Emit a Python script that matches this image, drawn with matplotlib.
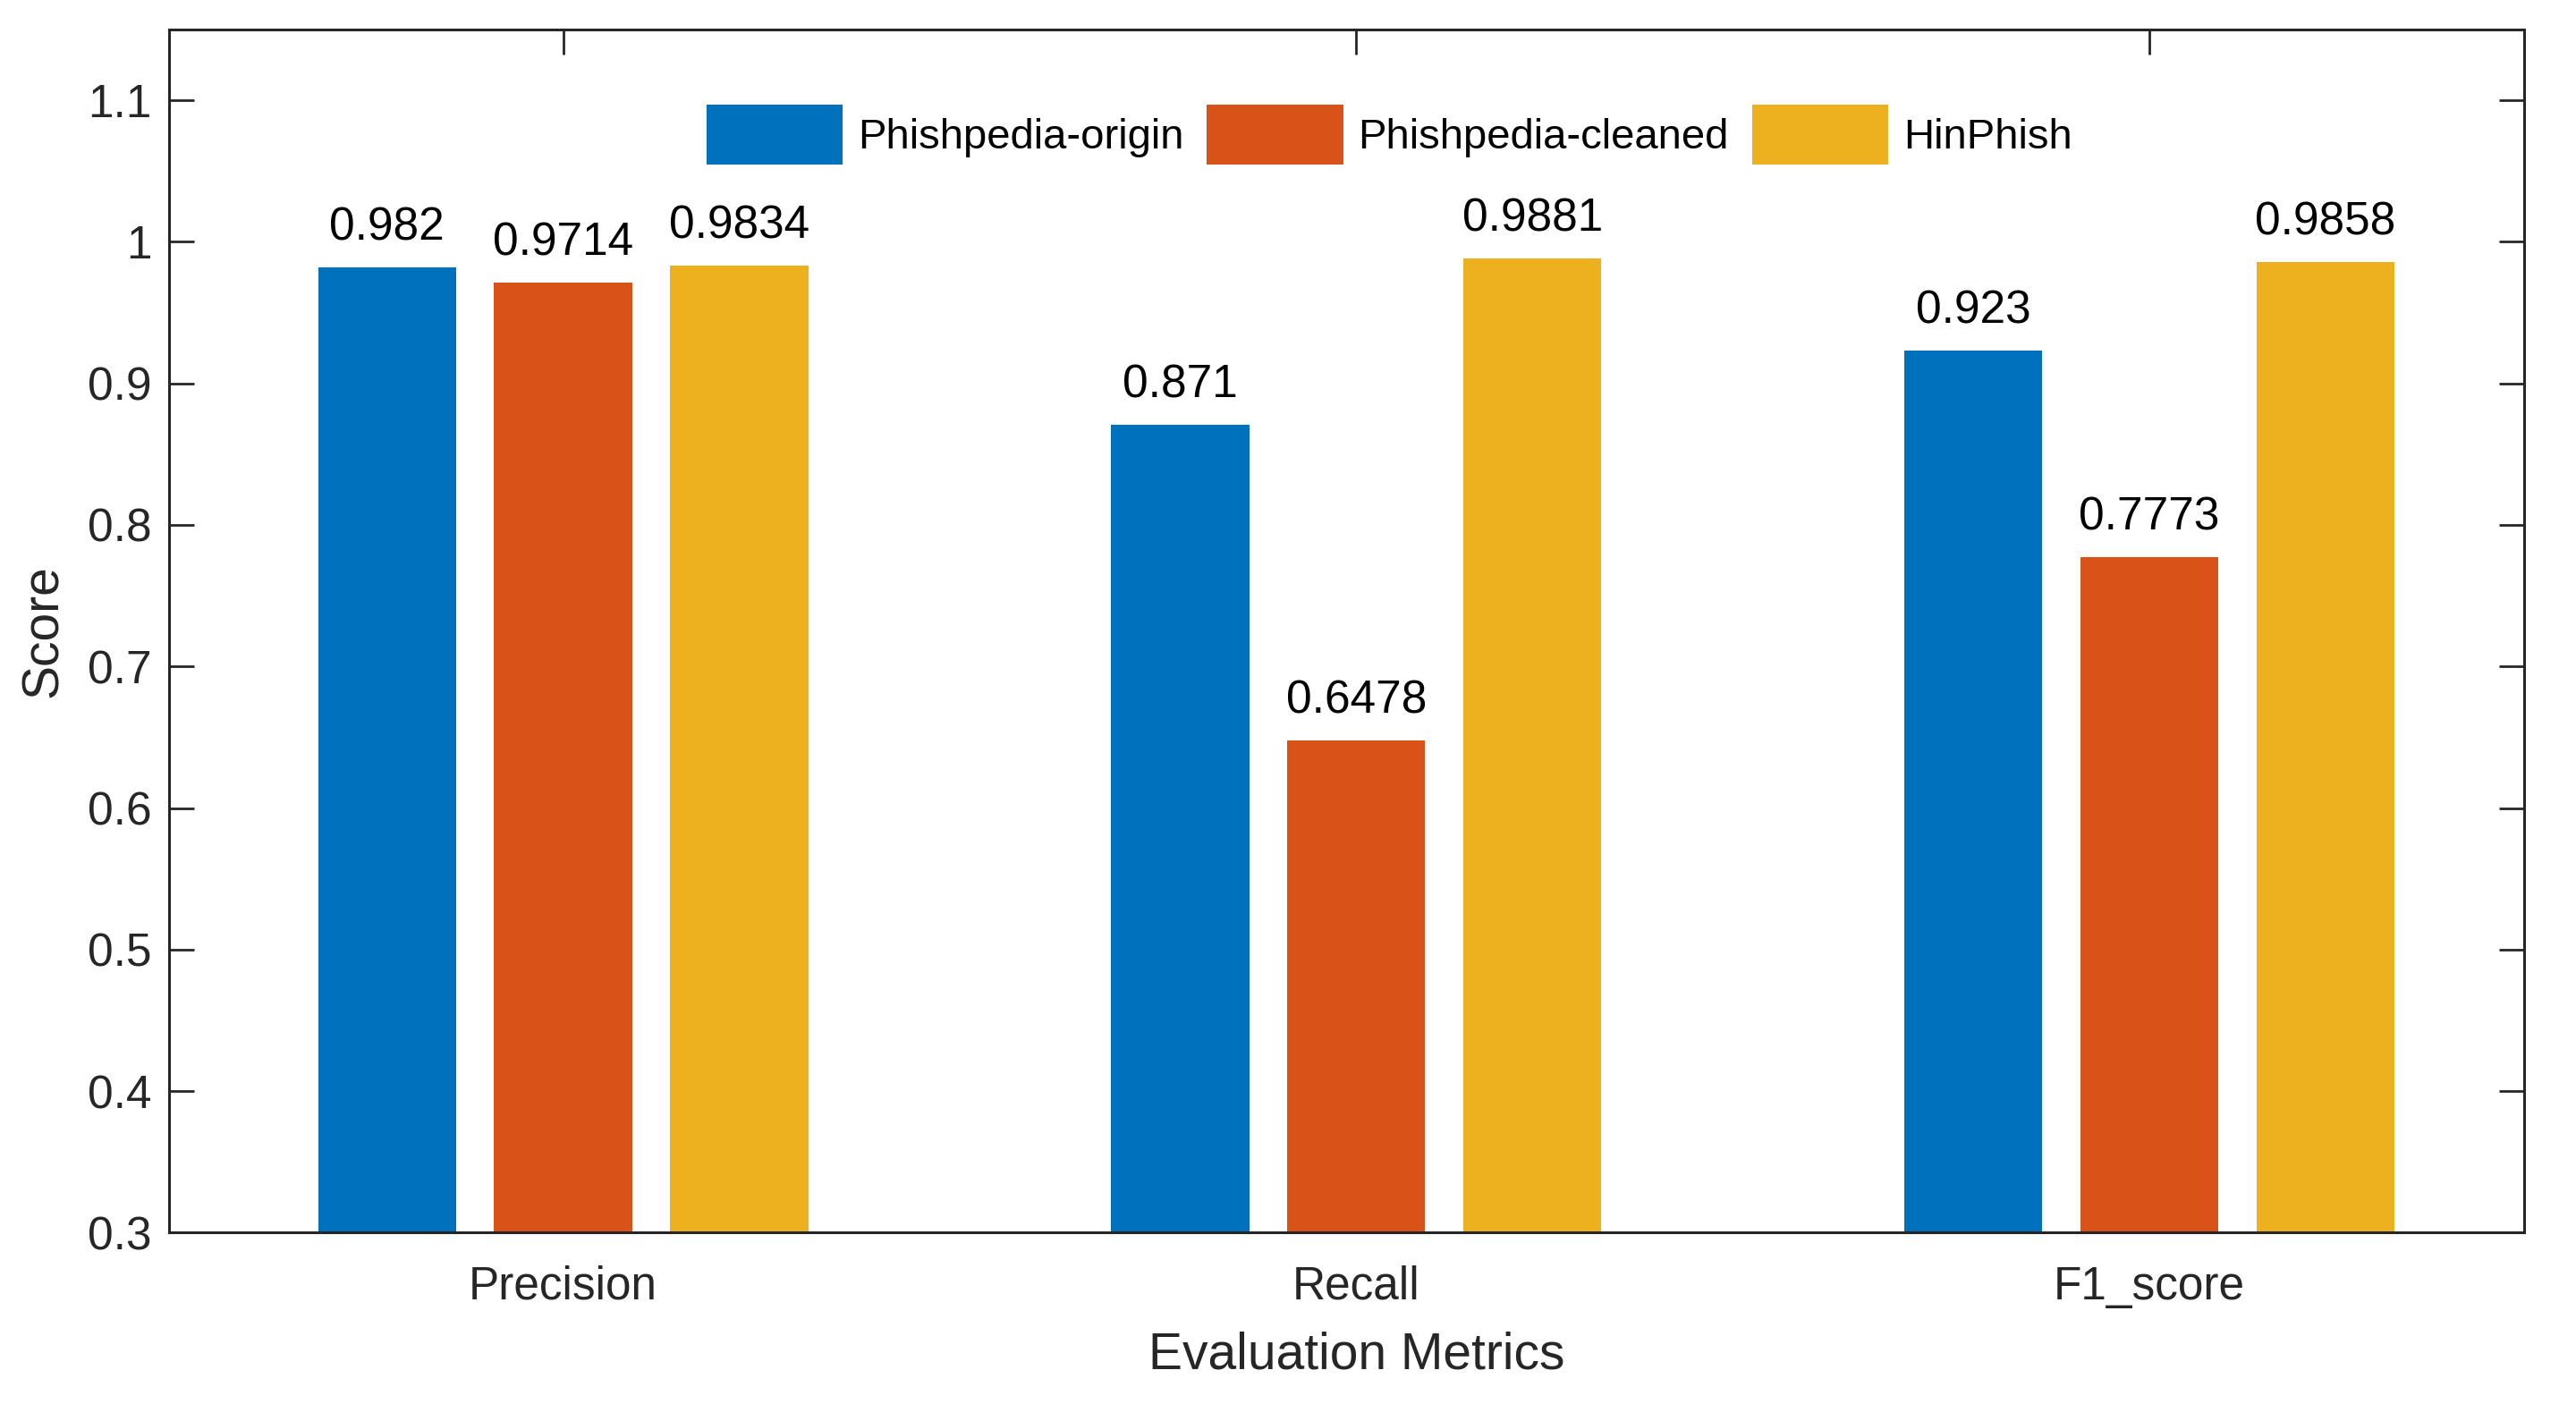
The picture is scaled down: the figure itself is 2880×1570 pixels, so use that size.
import matplotlib
matplotlib.use('Agg')
import matplotlib.pyplot as plt
import numpy as np

# Data
metrics = ['Precision', 'Recall', 'F1_score']
series_names = ['Phishpedia-origin', 'Phishpedia-cleaned', 'HinPhish']
origin = [0.982, 0.871, 0.923]
cleaned = [0.9714, 0.6478, 0.7773]
hinphish = [0.9834, 0.9881, 0.9858]
colors = ['#0072BD', '#D95319', '#EDB120']

plt.rcParams['font.family'] = ['Liberation Sans', 'DejaVu Sans']

fig = plt.figure(figsize=(28.8, 15.7), dpi=100)
ax = fig.add_axes([0.0656, 0.122, 0.9144, 0.857])

x = np.arange(1, len(metrics) + 1)
offset = 0.222
width = 0.174

for i, (vals, name) in enumerate(zip([origin, cleaned, hinphish], series_names)):
    pos = x + (i - 1) * offset
    bars = ax.bar(pos, vals, width, color=colors[i], label=name, zorder=2)
    for b, v in zip(bars, vals):
        ax.annotate(f'{v:g}', (b.get_x() + b.get_width() / 2, v),
                    xytext=(0, 14), textcoords='offset points',
                    ha='center', va='bottom', fontsize=37, color='black')

ax.set_xlim(0.503, 3.473)
ax.set_ylim(0.3, 1.15)
ax.set_xticks(x)
ax.set_xticklabels(metrics)
ax.set_yticks(np.arange(0.3, 1.11, 0.1))
ax.set_yticklabels(['0.3', '0.4', '0.5', '0.6', '0.7', '0.8', '0.9', '1', '1.1'])

ax.tick_params(direction='in', length=20, width=2, labelsize=37, colors='#262626',
               top=True, right=True, pad=14)
ax.tick_params(axis='x', pad=26)
for s in ax.spines.values():
    s.set_linewidth(2.2)
    s.set_color('#262626')

ax.set_xlabel('Evaluation Metrics', fontsize=41, color='#262626', labelpad=18)
ax.xaxis.label.set_x(0.504)
ax.set_ylabel('Score', fontsize=41, color='#262626', labelpad=16)

ax.legend(loc='center', bbox_to_anchor=(0.518, 0.9126), ncol=3, frameon=False,
          fontsize=34, handlelength=3.23, handleheight=1.78, handletextpad=0.35,
          columnspacing=0.55)

fig.savefig('out.png', dpi=100)
